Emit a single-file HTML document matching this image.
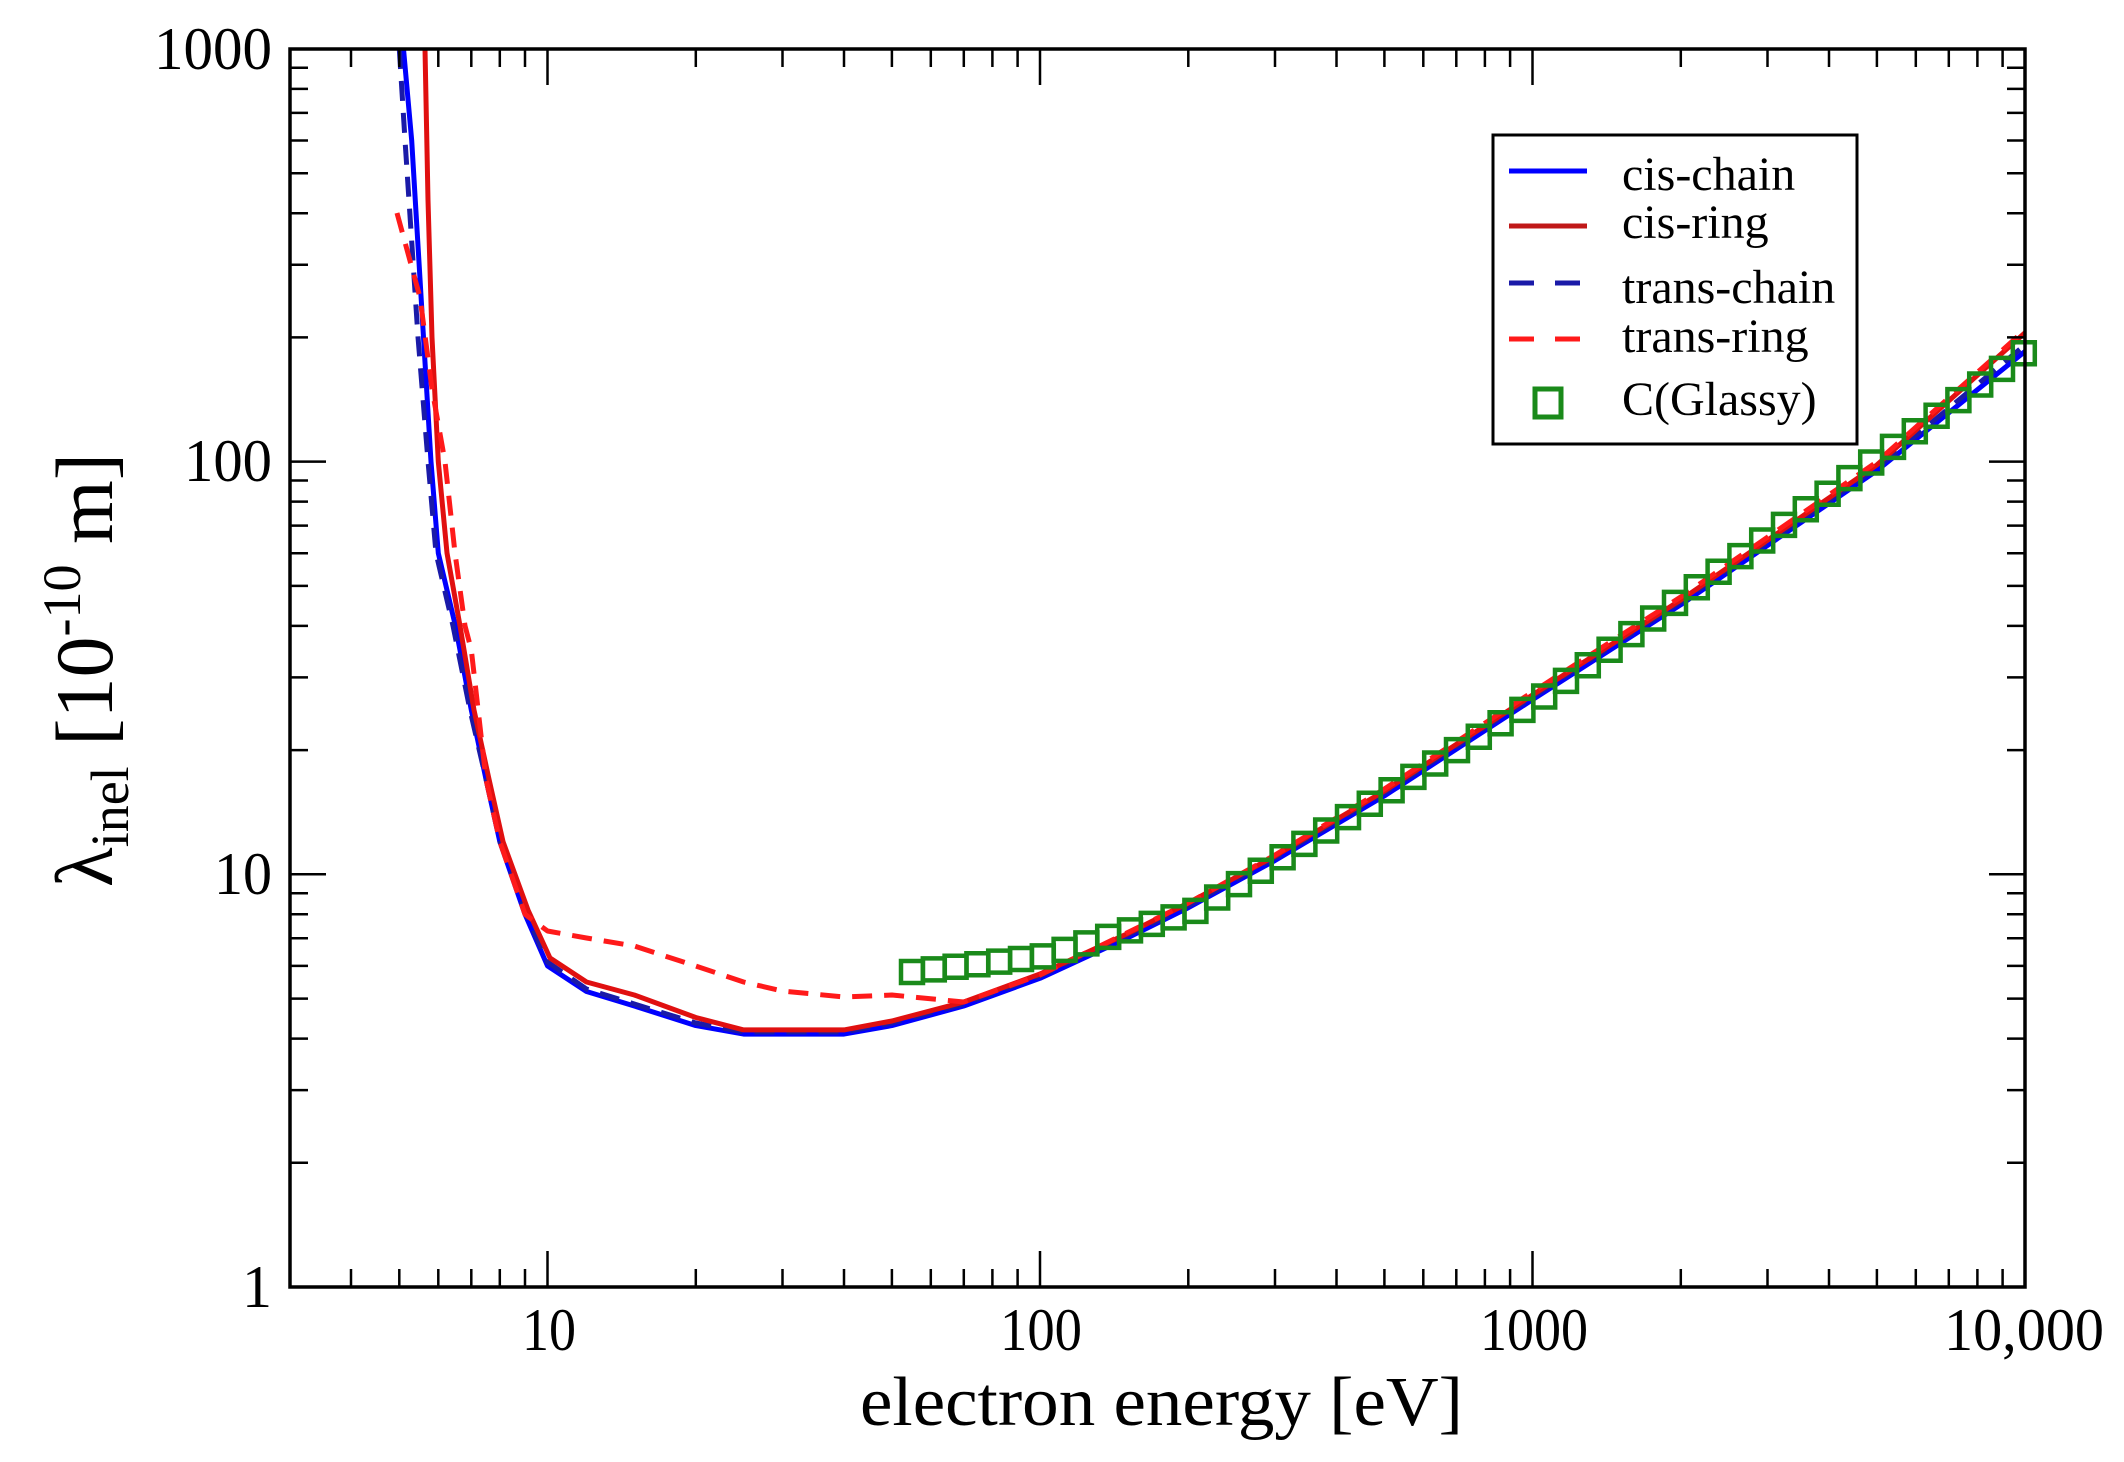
<!DOCTYPE html>
<html><head><meta charset="utf-8"><style>
html,body{margin:0;padding:0;background:#fff;}
svg{display:block;}
text{font-family:"Liberation Serif",serif;fill:#000;}
</style></head><body>
<svg width="2124" height="1462" viewBox="0 0 2124 1462" xmlns="http://www.w3.org/2000/svg">
<rect width="2124" height="1462" fill="#fff"/>
<!-- curves -->
<g fill="none" stroke-width="5" stroke-linejoin="round">
<path stroke="#0000ff" d="M403.5,49 L411.7,140.5 L423.5,337.4 L431,461.6 L438.3,553.2 L455.4,625.8 L471.3,710 L486,779.2 L499.8,841.6 L525,914.3 L547.5,965.9 L586.5,991.5 L634.3,1006 L695.8,1025.6 L743.6,1034.1 L782.5,1034.1 L844,1034.1 L891.9,1025.6 L963.8,1006 L1040,978.3 L1126.7,938.3 L1188.3,907.7 L1275,860.5 L1384.4,795.9 L1532.5,699.7 L1680.7,604.8 L1876.8,470.7 L2025,351.4"/>
<path stroke="#1a1aa8" stroke-dasharray="20 12" d="M399.3,49 L405,140 L418,337 L428,461 L436,553 L453,625.8 L470,710 L486,779 L500,842 L526,914 L547.5,962 L586.5,989 L634.3,1004 L695.8,1023 L743.6,1032 L782.5,1032 L844,1032 L891.9,1023 L963.8,1004 L1040,976 L1126.7,936 L1188.3,906 L1275,858 L1384.4,793 L1532.5,697 L1680.7,602 L1876.8,468 L2025,345"/>
<path stroke="#e01010" d="M425,49 L428,200 L432,337.4 L438.3,461.6 L447,553 L460,625.8 L474,710 L489,779.2 L503,841.6 L528,910 L550,958 L586.5,982 L634.3,995 L695.8,1017.5 L743.6,1029.9 L782.5,1029.9 L844,1029.9 L891.9,1021 L963.8,1002 L1040,974 L1126.7,934 L1188.3,903 L1275,856 L1384.4,791 L1532.5,695 L1680.7,600 L1876.8,465 L2025,332.8"/>
<path stroke="#ff1a1a" stroke-dasharray="20 12" d="M397,213 L420,297.4 L432,389 L445,461.6 L455,553 L465,625.8 L471.3,649.8 L486,779.2 L499.8,841.6 L525,914.3 L547.5,931 L586.5,938 L634.3,946 L695.8,966 L743.6,982 L782.5,991 L844,997 L891.9,995 L963.8,1002 L1040,975 L1126.7,933 L1188.3,903 L1275,855 L1384.4,789 L1532.5,692 L1680.7,597 L1876.8,462 L2025,330"/>
</g>
<!-- squares -->
<path fill="none" stroke="#1a8a1a" stroke-width="4.5" d="M901,961 h22 v22 h-22 z
m21.8,-2.6 h22 v22 h-22 z m21.8,-2.6 h22 v22 h-22 z m21.8,-2.6 h22 v22 h-22 z m21.8,-2.6 h22 v22 h-22 z m21.8,-2.6 h22 v22 h-22 z m21.8,-2.6 h22 v22 h-22 z
m21.8,-6.5 h22 v22 h-22 z m21.8,-6.5 h22 v22 h-22 z m21.8,-6.5 h22 v22 h-22 z m21.8,-6.5 h22 v22 h-22 z m21.8,-6.5 h22 v22 h-22 z m21.8,-6.5 h22 v22 h-22 z m21.8,-6.5 h22 v22 h-22 z
m21.8,-13.4 h22 v22 h-22 z m21.8,-13.4 h22 v22 h-22 z m21.8,-13.4 h22 v22 h-22 z m21.8,-13.4 h22 v22 h-22 z m21.8,-13.4 h22 v22 h-22 z m21.8,-13.4 h22 v22 h-22 z m21.8,-13.4 h22 v22 h-22 z m21.8,-13.4 h22 v22 h-22 z
m21.8,-13.4 h22 v22 h-22 z m21.8,-13.4 h22 v22 h-22 z m21.8,-13.4 h22 v22 h-22 z m21.8,-13.4 h22 v22 h-22 z m21.8,-13.4 h22 v22 h-22 z m21.8,-13.4 h22 v22 h-22 z m21.8,-13.4 h22 v22 h-22 z m21.8,-13.4 h22 v22 h-22 z
m21.8,-15.6 h22 v22 h-22 z m21.8,-15.6 h22 v22 h-22 z m21.8,-15.6 h22 v22 h-22 z m21.8,-15.6 h22 v22 h-22 z m21.8,-15.6 h22 v22 h-22 z m21.8,-15.6 h22 v22 h-22 z m21.8,-15.6 h22 v22 h-22 z m21.8,-15.6 h22 v22 h-22 z m21.8,-15.6 h22 v22 h-22 z m21.8,-15.6 h22 v22 h-22 z m21.8,-15.6 h22 v22 h-22 z
m21.8,-15.6 h22 v22 h-22 z m21.8,-15.6 h22 v22 h-22 z m21.8,-15.6 h22 v22 h-22 z m21.8,-15.6 h22 v22 h-22 z m21.8,-15.6 h22 v22 h-22 z m21.8,-15.6 h22 v22 h-22 z m21.8,-15.6 h22 v22 h-22 z m21.8,-15.6 h22 v22 h-22 z m21.8,-15.6 h22 v22 h-22 z m21.8,-15.6 h22 v22 h-22 z m21.8,-15.6 h22 v22 h-22 z"/>
<!-- white cover outside plot -->
<rect x="0" y="0" width="2124" height="47" fill="#fff"/>
<!-- frame -->
<rect x="290" y="49" width="1735" height="1238" fill="none" stroke="#000" stroke-width="3.5"/>
<!-- x ticks -->
<g stroke="#000" stroke-width="2.5">
<path d="M547.5,1287v-36 M1040,1287v-36 M1532.5,1287v-36 M547.5,49v36 M1040,49v36 M1532.5,49v36"/>
<path d="M351,1287v-18 M399.3,1287v-18 M438.3,1287v-18 M471.3,1287v-18 M499.8,1287v-18 M525,1287v-18
M695.8,1287v-18 M782.5,1287v-18 M844,1287v-18 M891.9,1287v-18 M930.8,1287v-18 M963.8,1287v-18 M992.4,1287v-18 M1017.6,1287v-18
M1188.3,1287v-18 M1275,1287v-18 M1336.5,1287v-18 M1384.4,1287v-18 M1423.3,1287v-18 M1456.3,1287v-18 M1484.9,1287v-18 M1510.1,1287v-18
M1680.8,1287v-18 M1767.5,1287v-18 M1829,1287v-18 M1876.9,1287v-18 M1915.8,1287v-18 M1948.8,1287v-18 M1977.4,1287v-18 M2002.6,1287v-18
M351,49v18 M399.3,49v18 M438.3,49v18 M471.3,49v18 M499.8,49v18 M525,49v18
M695.8,49v18 M782.5,49v18 M844,49v18 M891.9,49v18 M930.8,49v18 M963.8,49v18 M992.4,49v18 M1017.6,49v18
M1188.3,49v18 M1275,49v18 M1336.5,49v18 M1384.4,49v18 M1423.3,49v18 M1456.3,49v18 M1484.9,49v18 M1510.1,49v18
M1680.8,49v18 M1767.5,49v18 M1829,49v18 M1876.9,49v18 M1915.8,49v18 M1948.8,49v18 M1977.4,49v18 M2002.6,49v18"/>
<!-- y ticks -->
<path d="M290,874.3h36 M290,461.6h36 M2025,874.3h-36 M2025,461.6h-36"/>
<path d="M290,1162.8h18 M290,1090.1h18 M290,1038.6h18 M290,998.6h18 M290,965.9h18 M290,938.3h18 M290,914.3h18 M290,893.2h18
M290,750.1h18 M290,677.4h18 M290,625.9h18 M290,585.9h18 M290,553.2h18 M290,525.6h18 M290,501.6h18 M290,480.5h18
M290,337.4h18 M290,264.7h18 M290,213.2h18 M290,173.2h18 M290,140.5h18 M290,112.9h18 M290,88.9h18 M290,67.8h18
M2025,1162.8h-18 M2025,1090.1h-18 M2025,1038.6h-18 M2025,998.6h-18 M2025,965.9h-18 M2025,938.3h-18 M2025,914.3h-18 M2025,893.2h-18
M2025,750.1h-18 M2025,677.4h-18 M2025,625.9h-18 M2025,585.9h-18 M2025,553.2h-18 M2025,525.6h-18 M2025,501.6h-18 M2025,480.5h-18
M2025,337.4h-18 M2025,264.7h-18 M2025,213.2h-18 M2025,173.2h-18 M2025,140.5h-18 M2025,112.9h-18 M2025,88.9h-18 M2025,67.8h-18"/>
</g>
<!-- tick labels -->
<g font-size="60" text-anchor="end">
<text x="272" y="69" textLength="118" lengthAdjust="spacingAndGlyphs">1000</text>
<text x="272" y="481" textLength="88" lengthAdjust="spacingAndGlyphs">100</text>
<text x="272" y="894" textLength="58" lengthAdjust="spacingAndGlyphs">10</text>
<text x="272" y="1307">1</text>
</g>
<g font-size="60" text-anchor="middle">
<text x="549" y="1350" textLength="54" lengthAdjust="spacingAndGlyphs">10</text>
<text x="1041" y="1350" textLength="82" lengthAdjust="spacingAndGlyphs">100</text>
<text x="1534" y="1350" textLength="108" lengthAdjust="spacingAndGlyphs">1000</text>
<text x="2024" y="1350" textLength="160" lengthAdjust="spacingAndGlyphs">10,000</text>
</g>
<!-- axis titles -->
<text x="860" y="1425" font-size="70" textLength="603" lengthAdjust="spacingAndGlyphs">electron energy [eV]</text>
<g transform="translate(112,670) rotate(-90)">
<text x="0" y="0" font-size="82" text-anchor="middle">λ<tspan font-size="54" dy="16">inel</tspan><tspan dy="-16"> [10</tspan><tspan font-size="54" dy="-32">-10</tspan><tspan dy="32"> m]</tspan></text>
</g>
<!-- legend -->
<rect x="1493" y="135" width="364" height="309" fill="#fff" stroke="#000" stroke-width="3"/>
<g stroke-width="5" fill="none">
<path stroke="#0000ff" d="M1509,171h78"/>
<path stroke="#c01818" d="M1509,226h78"/>
<path stroke="#1a1aa8" stroke-dasharray="25 21" d="M1509,283h78"/>
<path stroke="#ff1a1a" stroke-dasharray="25 21" d="M1509,339h78"/>
<rect x="1535" y="389" width="26" height="28" stroke="#1a8a1a" stroke-width="5"/>
</g>
<g font-size="48">
<text x="1622" y="190">cis-chain</text>
<text x="1622" y="238">cis-ring</text>
<text x="1622" y="303">trans-chain</text>
<text x="1622" y="352">trans-ring</text>
<text x="1622" y="415">C(Glassy)</text>
</g>
</svg>
</body></html>
